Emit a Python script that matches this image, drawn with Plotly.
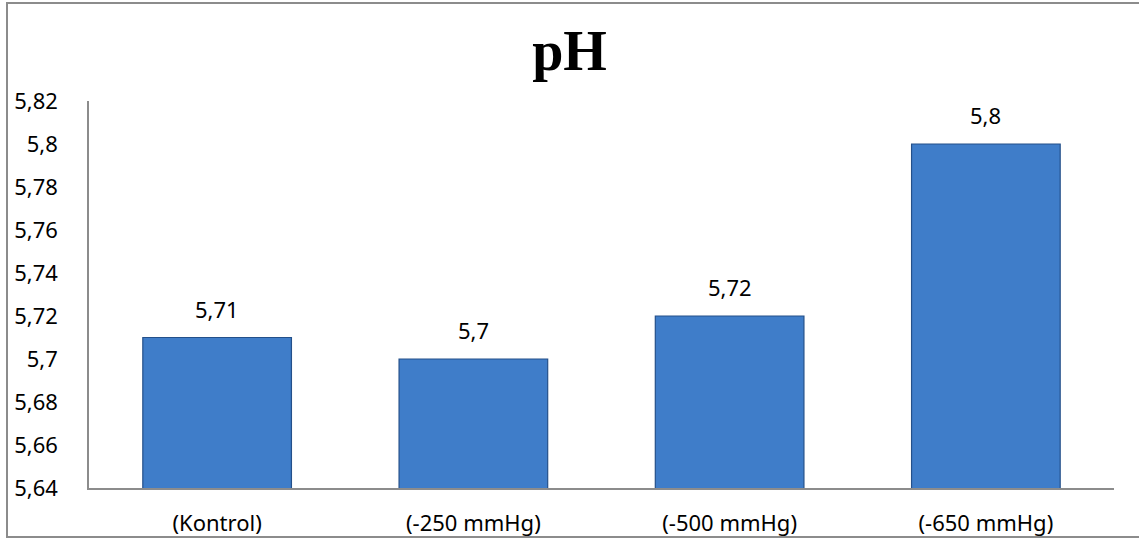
import plotly.graph_objects as go

categories = ["(Kontrol)", "(-250 mmHg)", "(-500 mmHg)", "(-650 mmHg)"]
values = [5.71, 5.70, 5.72, 5.80]
tick_values = [5.64, 5.66, 5.68, 5.70, 5.72, 5.74, 5.76, 5.78, 5.80, 5.82]
tick_labels = ["5,64", "5,66", "5,68", "5,7", "5,72", "5,74", "5,76", "5,78", "5,8", "5,82"]
title_text = "pH"

def fmt(v):
    s = ("%.2f" % v).rstrip("0").rstrip(".")
    return s.replace(".", ",")

W, H = 1139, 543
L, R, T, B = 89, 25, 101, 55
pw, ph = W - L - R, H - T - B

def px_x(p):
    return (p - L) / pw

def px_y(p):
    return (H - B - p) / ph

label_font = dict(family="Noto Sans, Open Sans, sans-serif", size=22, color="#000000")
tick_font = dict(family="Noto Sans, Open Sans, sans-serif", size=22, color="#000000")

fig = go.Figure()
fig.add_trace(go.Bar(
    x=categories, y=values,
    base=0,
    marker=dict(color="#3f7dc9", line=dict(color="#24508a", width=1.2)),
    width=0.58,
    hoverinfo="skip",
))

for c, v in zip(categories, values):
    fig.add_annotation(x=c, y=v, text=fmt(v), showarrow=False,
                       yanchor="bottom", yshift=12, font=label_font)

fig.update_layout(
    width=W, height=H,
    margin=dict(l=L, r=R, t=T, b=B),
    paper_bgcolor="white", plot_bgcolor="white",
    showlegend=False,
    title=dict(text="<b>%s</b>" % title_text, x=0.5, xref="container", xanchor="center",
               y=1 - 50 / H, yref="container", yanchor="middle",
               font=dict(family="Liberation Serif, Times New Roman, serif", size=56, color="#000000")),
    xaxis=dict(showline=True, linecolor="#8c8c8c", linewidth=1.5, showgrid=False,
               ticks="", tickfont=label_font, ticklabelstandoff=15, fixedrange=True,
               automargin=False),
    yaxis=dict(range=[5.64, 5.82], showline=True, linecolor="#8c8c8c", linewidth=1.5,
               showgrid=False, zeroline=False, ticks="", tickvals=tick_values,
               ticktext=tick_labels, tickfont=tick_font, ticklabelstandoff=25, fixedrange=True,
               automargin=False),
    shapes=[dict(type="rect", xref="paper", yref="paper",
                 x0=px_x(7), x1=px_x(1150), y0=px_y(537), y1=px_y(3),
                 line=dict(color="#8c8c8c", width=2), fillcolor="rgba(0,0,0,0)", layer="below")],
)

fig.write_html("out.html", config={"displayModeBar": False})
